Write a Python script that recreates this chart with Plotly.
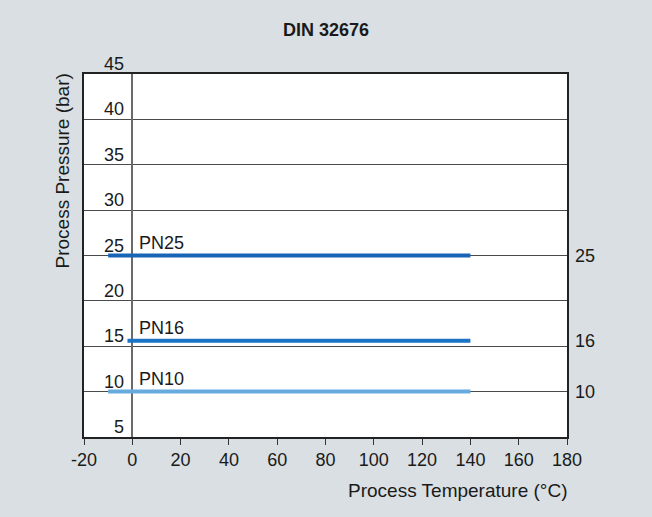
import plotly.graph_objects as go

# chart data
series_names = ['PN25', 'PN16', 'PN10']
pressure = [25, 15.6, 10]          # where the lines sit in the picture
pressure_labels = ['25', '16', '10']
temp_start = [-10, -2, -10]
temp_end = [140, 140, 140]
line_colors = ['#1a64b8', '#1b74c6', '#66aade']
y_ticks = [5, 10, 15, 20, 25, 30, 35, 40, 45]
x_ticks = [-20, 0, 20, 40, 60, 80, 100, 120, 140, 160, 180]
x_tick_labels = ['-20', '0', '20', '40', '60', '80', '100', '120', '140', '160', '180']

colors = {
    'background': '#d9dfe2',
    'plot': '#ffffff',
    'text': '#1a1a1a',
    'grid': '#4a4a4a',
}
font_family = 'Liberation Sans, Arial, sans-serif'
fs = 18

fig = go.Figure()

for name, p, lab, x0, x1, c in zip(series_names, pressure, pressure_labels, temp_start, temp_end, line_colors):
    fig.add_trace(go.Scatter(x=[x0, x1], y=[p, p], mode='lines', name=name,
                             line=dict(color=c, width=4), showlegend=False, hoverinfo='skip'))
    # series label above the line
    fig.add_annotation(x=0, y=p, xref='x', yref='y', text=name, showarrow=False,
                       xanchor='left', yanchor='bottom', xshift=5, yshift=1,
                       font=dict(size=fs, color=colors['text']))
    # value on the right side of the plot
    fig.add_annotation(x=1, y=p, xref='paper', yref='y', text=lab, showarrow=False,
                       xanchor='left', yanchor='middle', xshift=6,
                       font=dict(size=fs, color=colors['text']))

# y tick labels sit above the grid lines, left of the zero line
for v in y_ticks:
    fig.add_annotation(x=0, y=v, xref='x', yref='y', text=str(v), showarrow=False,
                       xanchor='right', yanchor='bottom', xshift=-6, yshift=-2,
                       font=dict(size=fs, color=colors['text']))

fig.add_annotation(x=1, y=0, xref='paper', yref='paper', text='Process Temperature (°C)',
                   showarrow=False, xanchor='right', yanchor='middle', yshift=-53, xshift=2,
                   font=dict(size=19, color=colors['text']))
fig.add_annotation(x=0, y=1, xref='paper', yref='paper', text='Process Pressure (bar)',
                   showarrow=False, textangle=-90, xanchor='center', yanchor='top',
                   xshift=-22, yshift=2, font=dict(size=19, color=colors['text']))

fig.update_layout(
    width=652, height=517,
    margin=dict(l=84, r=85, t=74, b=80),
    paper_bgcolor=colors['background'],
    plot_bgcolor=colors['plot'],
    font=dict(family=font_family, size=fs, color=colors['text']),
    title=dict(text='<b>DIN 32676</b>', x=0.5, xanchor='center', y=0.942, yanchor='middle',
               font=dict(size=fs, color=colors['text'])),
)
fig.update_xaxes(range=[-20, 180], tickvals=x_ticks, ticktext=x_tick_labels, showgrid=False,
                 zeroline=True, zerolinecolor='#6a6a6a', zerolinewidth=1.5,
                 showline=True, linecolor='#222222', linewidth=1.5, mirror=True,
                 ticks='outside', ticklen=6, tickcolor='#333333',
                 tickfont=dict(size=fs, color=colors['text']))
fig.update_yaxes(range=[5, 45], dtick=5, tick0=5, showgrid=True, gridcolor=colors['grid'],
                 gridwidth=1, zeroline=False, showticklabels=False,
                 showline=True, linecolor='#222222', linewidth=1.5, mirror=True)

fig.write_html("out.html", config={'displayModeBar': False},
               post_script="document.body.style.margin='0';")
